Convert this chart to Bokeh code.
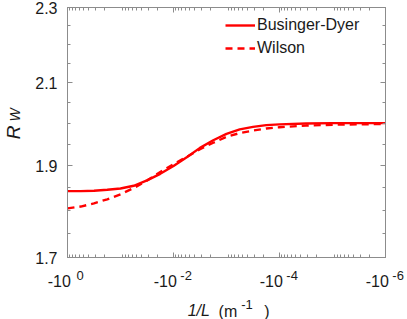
from bokeh.plotting import figure
from bokeh.models import (Range1d, FixedTicker, LogAxis, PrintfTickFormatter,
                          CustomJSTickFormatter, Legend, LegendItem)
from bokeh.embed import file_html
from bokeh.resources import INLINE

# ---- data ----
log10_abs_inv_L = [0, -0.25, -0.5, -0.75, -1.0, -1.25, -1.5, -1.75, -2.0, -2.25, -2.5,
                   -2.75, -3.0, -3.25, -3.5, -3.75, -4.0, -4.5, -5.0, -5.5, -6.0]
businger_dyer = [1.842, 1.842, 1.843, 1.845, 1.848, 1.854, 1.866, 1.881, 1.899, 1.919, 1.941,
                 1.959, 1.974, 1.985, 1.991, 1.995, 1.997, 1.999, 2.000, 2.000, 2.000]
wilson = [1.804, 1.808, 1.815, 1.824, 1.835, 1.849, 1.866, 1.885, 1.903, 1.920, 1.938,
          1.953, 1.967, 1.976, 1.982, 1.987, 1.990, 1.994, 1.996, 1.997, 1.998]
x_major = [1, 1e-2, 1e-4, 1e-6]
x_minor = [k * 10.0 ** n for n in range(-6, 0) for k in range(2, 10)]
x_tick_base = "-10"
y_major = [1.7, 1.9, 2.1, 2.3]
y_minor = [1.75, 1.8, 1.85, 1.95, 2.0, 2.05, 2.15, 2.2, 2.25]
series_names = ["Businger-Dyer", "Wilson"]
y_title = "R"
y_title_sub = "W"
x_title_var = "1/L"
x_title_parens = ["(m", ")"]
x_title_exp = "-1"
# anchor positions (data units) of the title parts
y_title_sub_at = 2.02
x_title_var_at = 10 ** -2.477
x_title_parens_at = [10 ** -3.026, 10 ** -3.764]
x_title_exp_at = 10 ** -3.387

x_vals = [10.0 ** e for e in log10_abs_inv_L]

FONT = "Liberation Sans"
AX = "#8c8c8c"
TXT = "#1a1a1a"
RED = "#ff0000"
NB = "\u00a0"

p = figure(frame_width=318, frame_height=250, x_axis_type="log", y_axis_type="log",
           x_range=Range1d(1, 1e-6), y_range=Range1d(1.7, 2.3),
           output_backend="svg", toolbar_location=None,
           min_border_left=67, min_border_right=22, min_border_top=7, min_border_bottom=62)
p.grid.visible = False
p.outline_line_color = AX
p.background_fill_color = "white"
p.border_fill_color = "white"

l1 = p.line(x_vals, businger_dyer, line_color=RED, line_width=2.4)
l2 = p.line(x_vals, wilson, line_color=RED, line_width=2.4, line_dash="7 5")

def const_fmt(s):
    return CustomJSTickFormatter(args=dict(s=s), code="return s")

# "-10" part of the tick labels (padded on the right so the base sits left of the tick)
base_fmt = CustomJSTickFormatter(args=dict(b=x_tick_base, pad=NB * 3 + "\u2009"),
                                 code="return b + pad")
# exponent part of the tick labels (padded on the left so it sits right of the tick)
exp_fmt = CustomJSTickFormatter(args=dict(pad=NB * 7),
                                code="return pad + String(Math.round(Math.log10(tick)))")
# pick the text whose anchor is nearest to the tick
pick_fmt = CustomJSTickFormatter(args=dict(at=x_title_parens_at, texts=x_title_parens), code="""
let best = 0, bd = Infinity;
for (let i = 0; i < at.length; i++) {
  const d = Math.abs(Math.log10(tick) - Math.log10(at[i]));
  if (d < bd) { bd = d; best = i; }
}
return texts[best];
""")

def style(ax, labels=True):
    ax.axis_line_color = AX
    ax.major_tick_line_color = AX
    ax.minor_tick_line_color = AX
    ax.major_tick_in = 5
    ax.major_tick_out = 0
    ax.minor_tick_in = 3
    ax.minor_tick_out = 0
    ax.major_label_text_font = FONT
    ax.major_label_text_font_size = "16px" if labels else "0px"
    ax.major_label_text_color = TXT
    if not labels:
        ax.major_label_standoff = 0

def text_axis(ticks, fmt, size, style_, standoff, orientation="horizontal"):
    ax = LogAxis(ticker=FixedTicker(ticks=ticks, minor_ticks=[]), formatter=fmt)
    ax.axis_line_color = None
    ax.major_tick_line_color = None
    ax.minor_tick_line_color = None
    ax.major_tick_in = 0
    ax.major_tick_out = 0
    ax.minor_tick_in = 0
    ax.minor_tick_out = 0
    ax.major_label_text_font = FONT
    ax.major_label_text_font_size = size
    ax.major_label_text_font_style = style_
    ax.major_label_text_color = TXT
    ax.major_label_standoff = standoff
    ax.major_label_orientation = orientation
    return ax

xa = p.xaxis[0]
xa.ticker = FixedTicker(ticks=x_major, minor_ticks=x_minor)
xa.formatter = base_fmt
style(xa)
xa.major_label_standoff = 15

ya = p.yaxis[0]
ya.ticker = FixedTicker(ticks=y_major, minor_ticks=y_minor)
ya.formatter = PrintfTickFormatter(format="%.1f")
style(ya)
ya.major_label_standoff = 10
ya.axis_label = y_title
ya.axis_label_text_font = FONT
ya.axis_label_text_font_size = "19px"
ya.axis_label_text_font_style = "italic"
ya.axis_label_text_color = TXT
ya.axis_label_standoff = 8

top = LogAxis(ticker=FixedTicker(ticks=x_major, minor_ticks=x_minor), formatter=const_fmt(""))
style(top, labels=False)
p.add_layout(top, "above")
right = LogAxis(ticker=FixedTicker(ticks=y_major, minor_ticks=y_minor), formatter=const_fmt(""))
style(right, labels=False)
p.add_layout(right, "right")

# subscript W of the y title
p.add_layout(text_axis([y_title_sub_at], const_fmt(y_title_sub), "14px", "italic", -23,
                       "vertical"), "left")
# tick exponents, then the x title pieces
p.add_layout(text_axis(x_major, exp_fmt, "13px", "normal", -25), "below")
p.add_layout(text_axis([x_title_var_at], const_fmt(x_title_var), "16px", "italic", 9), "below")
p.add_layout(text_axis(x_title_parens_at, pick_fmt, "16px", "normal", -19), "below")
p.add_layout(text_axis([x_title_exp_at], const_fmt(x_title_exp), "13px", "normal", -23), "below")

legend = Legend(items=[LegendItem(label=series_names[0], renderers=[l1]),
                       LegendItem(label=series_names[1], renderers=[l2])],
                location=(158, 199), padding=0, margin=0, spacing=3,
                glyph_width=30, glyph_height=20, label_standoff=2,
                label_text_font=FONT, label_text_font_size="16px",
                label_text_color=TXT, border_line_color=None,
                background_fill_alpha=0)
p.add_layout(legend, "center")

open("out.html", "w").write(file_html(p, INLINE))
